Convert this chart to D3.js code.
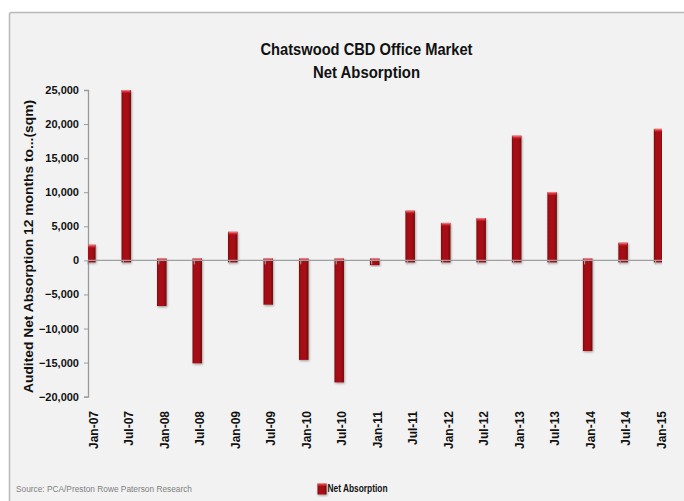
<!DOCTYPE html>
<html>
<head>
<meta charset="utf-8">
<script src="https://cdn.jsdelivr.net/npm/d3@7"></script>
<style>
  html, body { margin: 0; padding: 0; background: #ffffff; }
  svg { display: block; }
  text { font-family: "Liberation Sans", Arial, sans-serif; }
</style>
</head>
<body>
<svg id="chart" width="684" height="501"></svg>
<script>
// Half-yearly periods (12 months to ...)
const periods = ["Jan-07", "Jul-07", "Jan-08", "Jul-08", "Jan-09", "Jul-09", "Jan-10", "Jul-10", "Jan-11",
                 "Jul-11", "Jan-12", "Jul-12", "Jan-13", "Jul-13", "Jan-14", "Jul-14", "Jan-15"];
// Audited net absorption, sqm
const netAbsorption = [2300, 25000, -6700, -15100, 4200, -6500, -14600, -17900, -700,
                       7300, 5500, 6200, 18300, 10000, -13300, 2600, 19300];
const yTicks = [-20000, -15000, -10000, -5000, 0, 5000, 10000, 15000, 20000, 25000];

const titleLines = ["Chatswood CBD Office Market", "Net Absorption"];
const yTitle = "Audited Net Absorption 12 months to...(sqm)";
const seriesName = "Net Absorption";
const sourceNote = "Source: PCA/Preston Rowe Paterson Research";

const svg = d3.select("#chart");

// Chart area panel
svg.append("rect")
  .attr("x", 9.5).attr("y", 12.5)
  .attr("width", 690).attr("height", 500)
  .attr("rx", 2)
  .attr("fill", "#f2f2f2")
  .attr("stroke", "#b9b9b9")
  .attr("stroke-width", 1.5);

const plot = { left: 88, right: 662, top: 90, bottom: 396.7 };

const x = d3.scaleLinear()
  .domain([0, periods.length - 1])
  .range([90.8, 658.6]);
const y = d3.scaleLinear()
  .domain([-20000, 25000])
  .range([plot.bottom, plot.top]);
const barW = 9.5;

// Gradients for the bevelled bars
const defs = svg.append("defs");
const g = defs.append("linearGradient").attr("id", "barFill").attr("x1", "0").attr("x2", "1").attr("y1", "0").attr("y2", "0");
g.append("stop").attr("offset", "0%").attr("stop-color", "#7e0a0e");
g.append("stop").attr("offset", "25%").attr("stop-color", "#a80e14");
g.append("stop").attr("offset", "70%").attr("stop-color", "#a60d13");
g.append("stop").attr("offset", "100%").attr("stop-color", "#6f080b");
const cap = defs.append("linearGradient").attr("id", "capFill").attr("x1", "0").attr("x2", "0").attr("y1", "0").attr("y2", "1");
cap.append("stop").attr("offset", "0%").attr("stop-color", "#f0a0a4");
cap.append("stop").attr("offset", "40%").attr("stop-color", "#e33a42");
cap.append("stop").attr("offset", "100%").attr("stop-color", "#b3121a");
const shadow = defs.append("filter").attr("id", "barShadow").attr("x", "-50%").attr("y", "-10%").attr("width", "200%").attr("height", "130%");
shadow.append("feDropShadow").attr("dx", 0.8).attr("dy", 1.2).attr("stdDeviation", 0.9).attr("flood-color", "#000").attr("flood-opacity", 0.35);
defs.append("clipPath").attr("id", "plotClip")
  .append("rect").attr("x", plot.left).attr("y", plot.top - 4)
  .attr("width", plot.right - plot.left).attr("height", plot.bottom - plot.top + 8);

// Title
svg.append("text")
  .attr("x", 366.5).attr("y", 55)
  .attr("text-anchor", "middle")
  .attr("font-size", 16.5).attr("font-weight", "bold").attr("fill", "#111")
  .attr("textLength", 212).attr("lengthAdjust", "spacingAndGlyphs")
  .text(titleLines[0]);
svg.append("text")
  .attr("x", 366.5).attr("y", 78)
  .attr("text-anchor", "middle")
  .attr("font-size", 16.5).attr("font-weight", "bold").attr("fill", "#111")
  .attr("textLength", 107).attr("lengthAdjust", "spacingAndGlyphs")
  .text(titleLines[1]);

// Y axis
const yAxis = d3.axisLeft(y).tickValues(yTicks).tickSize(4).tickPadding(5)
  .tickFormat(d3.format(","));
const yg = svg.append("g").attr("transform", `translate(${plot.left},0)`).call(yAxis);
yg.select(".domain").attr("stroke", "#9a9a9a").attr("stroke-width", 1.3);
yg.selectAll(".tick line").attr("stroke", "#9a9a9a");
yg.selectAll(".tick text").attr("font-size", 11).attr("font-weight", "bold").attr("fill", "#111")
  .attr("font-family", "\"Liberation Sans\", Arial, sans-serif");

// Y title
svg.append("text")
  .attr("transform", `translate(33,246.5) rotate(-90)`)
  .attr("text-anchor", "middle")
  .attr("font-size", 13.5).attr("font-weight", "bold").attr("fill", "#111")
  .attr("textLength", 293).attr("lengthAdjust", "spacingAndGlyphs")
  .text(yTitle);

// Bars
const bars = svg.append("g").attr("clip-path", "url(#plotClip)");
const barG = bars.selectAll("g.bar").data(netAbsorption).join("g").attr("class", "bar")
  .attr("filter", "url(#barShadow)");
barG.append("rect")
  .attr("x", (d, i) => x(i) - barW / 2)
  .attr("y", d => d >= 0 ? y(d) : y(0) - 2)
  .attr("width", barW)
  .attr("height", d => Math.abs(y(d) - y(0)) + 2)
  .attr("fill", "url(#barFill)");
barG.append("rect")
  .attr("x", (d, i) => x(i) - barW / 2 + 0.5)
  .attr("y", d => d >= 0 ? y(d) : y(0) - 2)
  .attr("width", barW - 1)
  .attr("height", 3)
  .attr("fill", "url(#capFill)");

// Zero line with category ticks
svg.append("line")
  .attr("x1", plot.left).attr("x2", plot.right)
  .attr("y1", y(0)).attr("y2", y(0))
  .attr("stroke", "#9f9f9f").attr("stroke-width", 1.3);
svg.append("g").selectAll("line").data(periods).join("line")
  .attr("x1", (d, i) => x(i) - 3).attr("x2", (d, i) => x(i) - 3)
  .attr("y1", y(0)).attr("y2", y(0) + 4)
  .attr("stroke", "#b0b0b0").attr("stroke-width", 1);

// Period labels
svg.append("g").selectAll("text").data(periods).join("text")
  .attr("transform", (d, i) => `translate(${x(i) + 3},411) rotate(-90)`)
  .attr("text-anchor", "end")
  .attr("dy", "0.35em")
  .attr("font-size", 12).attr("font-weight", "bold").attr("fill", "#111")
  .text(d => d);

// Legend
svg.append("rect")
  .attr("x", 317.5).attr("y", 483.5).attr("width", 9).attr("height", 11)
  .attr("fill", "url(#barFill)").attr("filter", "url(#barShadow)");
svg.append("rect")
  .attr("x", 318).attr("y", 483.5).attr("width", 8).attr("height", 2.5)
  .attr("fill", "url(#capFill)");
svg.append("text")
  .attr("x", 327.5).attr("y", 492)
  .attr("font-size", 10).attr("font-weight", "bold").attr("fill", "#111")
  .attr("textLength", 60).attr("lengthAdjust", "spacingAndGlyphs")
  .text(seriesName);

// Source note
svg.append("text")
  .attr("x", 16).attr("y", 492)
  .attr("font-size", 8.5).attr("fill", "#808080")
  .attr("textLength", 176).attr("lengthAdjust", "spacingAndGlyphs")
  .text(sourceNote);
</script>
</body>
</html>
